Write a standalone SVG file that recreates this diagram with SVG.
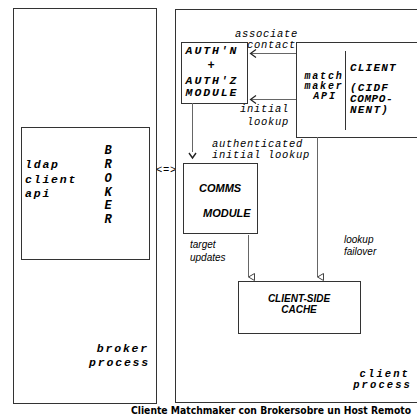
<svg xmlns="http://www.w3.org/2000/svg" width="417" height="419" viewBox="0 0 417 419">
<style>
.box{fill:#fff;stroke:#333;stroke-width:1}
.ln{fill:none;stroke:#666;stroke-width:1}
.bm{font-family:"Liberation Mono",monospace;font-weight:bold;font-style:italic;fill:#000}
.big{font-size:11.5px;letter-spacing:1.8px}
.au{font-size:11.5px;letter-spacing:1.9px}
.im{font-family:"Liberation Mono",monospace;font-style:italic;fill:#000;font-size:10.5px;letter-spacing:0.7px}
.ss{font-family:"Liberation Sans",Arial,sans-serif;font-style:italic;fill:#000}
</style>
<defs>
<marker id="tri" markerWidth="8" markerHeight="8" refX="4" refY="7" orient="auto" markerUnits="userSpaceOnUse">
<path d="M0.5,1 L7.5,1 L4,7 Z" fill="#fff" stroke="#444"/>
</marker>
</defs>
<rect width="417" height="419" fill="#fff"/>
<g id="broker-process">
<rect class="box" x="13.5" y="8.5" width="143" height="395"/>
<text class="bm big" text-anchor="end" x="149" y="352">broker</text>
<text class="bm big" text-anchor="end" x="150" y="366">process</text>
</g>
<g id="broker">
<rect class="box" x="21.5" y="127.5" width="128" height="132"/>
<text class="bm big" x="25" y="168">ldap</text>
<text class="bm big" x="25" y="183">client</text>
<text class="bm big" x="25" y="197">api</text>
<text class="bm" font-size="12" text-anchor="middle" x="108" y="154">B</text>
<text class="bm" font-size="12" text-anchor="middle" x="108" y="168">R</text>
<text class="bm" font-size="12" text-anchor="middle" x="108" y="182">O</text>
<text class="bm" font-size="12" text-anchor="middle" x="108" y="196">K</text>
<text class="bm" font-size="12" text-anchor="middle" x="108" y="209">E</text>
<text class="bm" font-size="12" text-anchor="middle" x="108" y="223">R</text>
</g>
<g id="link">
<text class="im" font-size="10" x="156" y="173">&lt;=&gt;</text>
</g>
<g id="client-process">
<rect class="box" x="175.5" y="9.5" width="260" height="393"/>
<text class="bm" font-size="10.5" letter-spacing="2.1" text-anchor="end" x="410" y="377">client</text>
<text class="bm" font-size="10.5" letter-spacing="2.1" text-anchor="end" x="412" y="388">process</text>
</g>
<g id="auth-module">
<rect class="box" x="181.5" y="42.5" width="66" height="61"/>
<text class="bm au" text-anchor="middle" x="212" y="54">AUTH'N</text>
<text class="bm" font-size="12" text-anchor="middle" x="211" y="69">+</text>
<text class="bm au" text-anchor="middle" x="212" y="84">AUTH'Z</text>
<text class="bm au" text-anchor="middle" x="212" y="96">MODULE</text>
</g>
<g id="client-cidf">
<rect class="box" x="296.5" y="42.5" width="130" height="95"/>
<line x1="345.5" y1="51" x2="345.5" y2="130" stroke="#333"/>
<text class="bm" font-size="10" letter-spacing="1.8" text-anchor="middle" x="324" y="79">match</text>
<text class="bm" font-size="10" letter-spacing="1.8" text-anchor="middle" x="324" y="89">maker</text>
<text class="bm" font-size="10" letter-spacing="1.8" text-anchor="middle" x="325" y="99">API</text>
<text class="bm" font-size="11" letter-spacing="1.2" x="350" y="71">CLIENT</text>
<text class="bm" font-size="11" letter-spacing="1.2" x="350" y="91">(CIDF</text>
<text class="bm" font-size="11" letter-spacing="0.6" x="350" y="102">COMPO-</text>
<text class="bm" font-size="11" letter-spacing="1.2" x="350" y="113">NENT)</text>
</g>
<g id="comms-module">
<rect class="box" x="183.5" y="163.5" width="74" height="70"/>
<text class="ss" font-weight="bold" font-size="11" x="199" y="192">COMMS</text>
<text class="ss" font-weight="bold" font-size="11" x="203" y="217">MODULE</text>
</g>
<g id="client-side-cache">
<rect class="box" x="238.5" y="281.5" width="122" height="52"/>
<text class="ss" font-weight="bold" font-size="10" text-anchor="middle" x="299" y="302">CLIENT-SIDE</text>
<text class="ss" font-weight="bold" font-size="10" text-anchor="middle" x="299" y="313">CACHE</text>
</g>
<g id="connectors">
<line class="ln" x1="296" y1="53.5" x2="251" y2="53.5"/>
<path d="M256,49.5 L250.5,53.5 L256,57.5" fill="none" stroke="#222" stroke-width="1.2"/>
<line class="ln" x1="296" y1="99.5" x2="251" y2="99.5"/>
<path d="M256,95.5 L250.5,99.5 L256,103.5" fill="none" stroke="#222" stroke-width="1.2"/>
<line class="ln" x1="192.5" y1="103" x2="192.5" y2="152"/>
<path d="M189,153 L192.5,158 L196,153" fill="none" stroke="#222" stroke-width="1.4"/>
<line class="ln" x1="317.5" y1="137" x2="317.5" y2="277" marker-end="url(#tri)"/>
<line class="ln" x1="248.5" y1="235" x2="248.5" y2="277" marker-end="url(#tri)"/>
<text class="im" text-anchor="end" x="298" y="37">associate</text>
<text class="im" text-anchor="end" x="296" y="48">contact</text>
<text class="im" text-anchor="end" x="289" y="112">initial</text>
<text class="im" text-anchor="end" x="289" y="125">lookup</text>
<text class="im" x="212" y="147">authenticated</text>
<text class="im" x="212" y="158">initial lookup</text>
<text class="ss" font-size="10" x="190" y="248">target</text>
<text class="ss" font-size="10" x="190" y="261">updates</text>
<text class="ss" font-size="10" x="344" y="243">lookup</text>
<text class="ss" font-size="10" x="344" y="255">failover</text>
</g>
<text font-family="'DejaVu Sans',Verdana,sans-serif" font-weight="bold" font-size="10" x="131" y="414" textLength="280" lengthAdjust="spacingAndGlyphs">Cliente Matchmaker con Brokersobre un Host Remoto</text>
</svg>
